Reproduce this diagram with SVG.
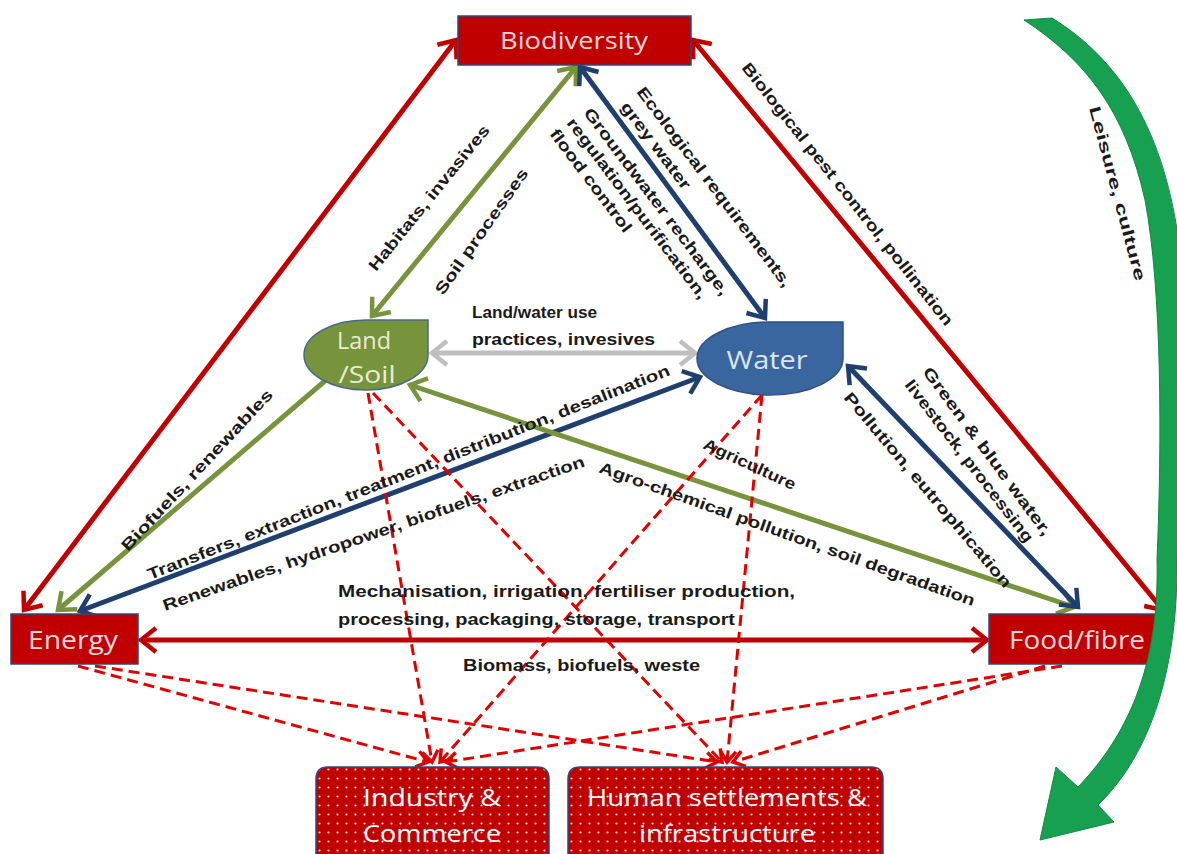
<svg xmlns="http://www.w3.org/2000/svg" width="1177" height="854" viewBox="0 0 1177 854">
<style>
.box{fill:#c00000;stroke:#2f4a7a;stroke-width:1.5}
.nt{font-family:"Open Sans","Noto Sans",sans-serif;font-size:23px;text-anchor:middle}
.lbl{font-family:"Liberation Sans",Arial,sans-serif;font-weight:bold;font-size:16px;fill:#1a1a1a}
.red{stroke:#c00000;stroke-width:5;fill:none}
.grn{stroke:#77933c;stroke-width:5;fill:none}
.blu{stroke:#1f3f6e;stroke-width:5;fill:none}
.gry{stroke:#bfbfbf;stroke-width:5;fill:none}
.dsh{stroke:#e00000;stroke-width:3;fill:none;stroke-dasharray:11 6}
</style>
<defs>
<marker id="aR" viewBox="-18 -14 24 28" refX="0" refY="0" markerWidth="24" markerHeight="28" markerUnits="userSpaceOnUse" orient="auto-start-reverse"><path d="M-15,-12 L0,0 L-15,12" fill="none" stroke="#c00000" stroke-width="4.5"/></marker>
<marker id="aG" viewBox="-18 -14 24 28" refX="0" refY="0" markerWidth="24" markerHeight="28" markerUnits="userSpaceOnUse" orient="auto-start-reverse"><path d="M-15,-12 L0,0 L-15,12" fill="none" stroke="#77933c" stroke-width="4.5"/></marker>
<marker id="aB" viewBox="-18 -14 24 28" refX="0" refY="0" markerWidth="24" markerHeight="28" markerUnits="userSpaceOnUse" orient="auto-start-reverse"><path d="M-15,-12 L0,0 L-15,12" fill="none" stroke="#1f3f6e" stroke-width="4.5"/></marker>
<marker id="aY" viewBox="-18 -14 24 28" refX="0" refY="0" markerWidth="24" markerHeight="28" markerUnits="userSpaceOnUse" orient="auto-start-reverse"><path d="M-15,-12 L0,0 L-15,12" fill="none" stroke="#bfbfbf" stroke-width="4.5"/></marker>
<marker id="aD" viewBox="-14 -10 18 20" refX="0" refY="0" markerWidth="18" markerHeight="20" markerUnits="userSpaceOnUse" orient="auto"><path d="M-11,-8 L0,0 L-11,8" fill="none" stroke="#e00000" stroke-width="3.5"/></marker>
<pattern id="dots" width="9" height="9" patternUnits="userSpaceOnUse"><rect width="9" height="9" fill="#c00000"/><circle cx="4.5" cy="4.5" r="1.1" fill="#ffffff" opacity="0.85"/></pattern>
</defs>
<rect width="1177" height="854" fill="#ffffff"/>

<g id="connectors">
<line class="red" x1="456" y1="40" x2="24" y2="610" marker-start="url(#aR)" marker-end="url(#aR)"/>
<line class="red" x1="693" y1="40" x2="1163" y2="610" marker-start="url(#aR)" marker-end="url(#aR)"/>
<line class="red" x1="141" y1="640" x2="987" y2="640" marker-start="url(#aR)" marker-end="url(#aR)"/>
<line class="grn" x1="372" y1="316" x2="576" y2="67" marker-start="url(#aG)" marker-end="url(#aG)"/>
<line class="grn" x1="326" y1="380" x2="58" y2="610" marker-end="url(#aG)"/>
<line class="blu" x1="580" y1="67" x2="765" y2="318" marker-start="url(#aB)" marker-end="url(#aB)"/>
<line class="blu" x1="80" y1="611" x2="700" y2="377" marker-start="url(#aB)" marker-end="url(#aB)"/>
<line class="gry" x1="432" y1="353" x2="695" y2="353" marker-start="url(#aY)" marker-end="url(#aY)"/>
<line class="grn" x1="410" y1="385" x2="1074" y2="607" marker-start="url(#aG)" marker-end="url(#aG)"/>
<line class="blu" x1="848" y1="366" x2="1078" y2="607" marker-start="url(#aB)" marker-end="url(#aB)"/>
<line class="dsh" x1="368" y1="393" x2="432" y2="762" marker-end="url(#aD)"/>
<line class="dsh" x1="373" y1="393" x2="722" y2="762" marker-end="url(#aD)"/>
<line class="dsh" x1="762" y1="395" x2="440" y2="762" marker-end="url(#aD)"/>
<line class="dsh" x1="762" y1="395" x2="727" y2="762" marker-end="url(#aD)"/>
<line class="dsh" x1="78" y1="666" x2="428" y2="762" marker-end="url(#aD)"/>
<line class="dsh" x1="95" y1="666" x2="717" y2="762" marker-end="url(#aD)"/>
<line class="dsh" x1="1062" y1="666" x2="446" y2="762" marker-end="url(#aD)"/>
<line class="dsh" x1="1045" y1="666" x2="733" y2="762" marker-end="url(#aD)"/>
</g>

<g id="labels">
<text class="lbl" transform="translate(128,552) rotate(-47)" textLength="214" lengthAdjust="spacingAndGlyphs">Biofuels, renewables</text>
<text class="lbl" transform="translate(376,272) rotate(-51)" textLength="182" lengthAdjust="spacingAndGlyphs">Habitats, invasives</text>
<text class="lbl" transform="translate(443,296) rotate(-55)" textLength="150" lengthAdjust="spacingAndGlyphs">Soil processes</text>
<text class="lbl" transform="translate(636,92) rotate(53)" textLength="246" lengthAdjust="spacingAndGlyphs">Ecological requirements,</text>
<text class="lbl" transform="translate(620,107) rotate(53)" textLength="105" lengthAdjust="spacingAndGlyphs">grey water</text>
<text class="lbl" transform="translate(583,113) rotate(53)" textLength="230" lengthAdjust="spacingAndGlyphs">Groundwater recharge,</text>
<text class="lbl" transform="translate(566,123) rotate(53)" textLength="222" lengthAdjust="spacingAndGlyphs">regulation/purification,</text>
<text class="lbl" transform="translate(549,134) rotate(53)" textLength="125" lengthAdjust="spacingAndGlyphs">flood control</text>
<text class="lbl" transform="translate(741,68) rotate(51.7)" textLength="330" lengthAdjust="spacingAndGlyphs">Biological  pest control, pollination</text>
<text class="lbl" transform="translate(1089,108) rotate(75)" textLength="180" lengthAdjust="spacingAndGlyphs">Leisure, culture</text>
<text class="lbl" transform="translate(922,372) rotate(53.6)" textLength="205" lengthAdjust="spacingAndGlyphs">Green &amp; blue water,</text>
<text class="lbl" transform="translate(904,385) rotate(52.5)" textLength="200" lengthAdjust="spacingAndGlyphs">livestock, processing</text>
<text class="lbl" transform="translate(843,398) rotate(49.8)" textLength="250" lengthAdjust="spacingAndGlyphs">Pollution, eutrophication</text>
<text class="lbl" transform="translate(702,448) rotate(25)" textLength="100" lengthAdjust="spacingAndGlyphs">Agriculture</text>
<text class="lbl" transform="translate(598,472) rotate(19.7)" textLength="398" lengthAdjust="spacingAndGlyphs">Agro-chemical  pollution, soil degradation</text>
<text class="lbl" transform="translate(150,580) rotate(-21.5)" textLength="560" lengthAdjust="spacingAndGlyphs">Transfers, extraction,  treatment, distribution, desalination</text>
<text class="lbl" transform="translate(165,611) rotate(-19)" textLength="445" lengthAdjust="spacingAndGlyphs">Renewables, hydropower, biofuels, extraction</text>
<text class="lbl" x="472" y="318" textLength="125" lengthAdjust="spacingAndGlyphs">Land/water use</text>
<text class="lbl" x="472" y="345" textLength="183" lengthAdjust="spacingAndGlyphs">practices, invesives</text>
<text class="lbl" x="338" y="597" textLength="457" lengthAdjust="spacingAndGlyphs">Mechanisation, irrigation,  fertiliser production,</text>
<text class="lbl" x="338" y="625" textLength="397" lengthAdjust="spacingAndGlyphs">processing, packaging,  storage, transport</text>
<text class="lbl" x="463" y="671" textLength="237" lengthAdjust="spacingAndGlyphs">Biomass, biofuels, weste</text>
</g>

<g id="biodiversity">
<rect class="box" x="458" y="16" width="233" height="49"/>
<text class="nt" x="574" y="49" fill="#f7d9d9" style="font-size:24px" textLength="148" lengthAdjust="spacingAndGlyphs">Biodiversity</text>
</g>
<g id="energy">
<rect class="box" x="11" y="614" width="127" height="50"/>
<text class="nt" x="73" y="649" fill="#f7d9d9" style="font-size:25px" textLength="90" lengthAdjust="spacingAndGlyphs">Energy</text>
</g>
<g id="food-fibre">
<rect class="box" x="989" y="614" width="174" height="50"/>
<text class="nt" x="1077" y="649" fill="#f7d9d9" style="font-size:25px" textLength="136" lengthAdjust="spacingAndGlyphs">Food/fibre</text>
</g>
<g id="land-soil">
<path d="M366,320 L428,320 L428,355 A62,35 0 0 1 366,390 A62,35 0 0 1 304,355 A62,35 0 0 1 366,320 Z" fill="#77933c" stroke="#4a6a8a" stroke-width="1.5"/>
<text class="nt" x="364" y="349" fill="#e6eed5" textLength="54" lengthAdjust="spacingAndGlyphs">Land</text>
<text class="nt" x="367" y="383" fill="#e6eed5" textLength="57" lengthAdjust="spacingAndGlyphs">/Soil</text>
</g>
<g id="water">
<path d="M770,322 L843,322 L843,358 A73,36.5 0 0 1 770,395 A73,36.5 0 0 1 697,358 A73,36.5 0 0 1 770,322 Z" fill="#3a66a0" stroke="#2f5080" stroke-width="1.5"/>
<text class="nt" x="767" y="369" fill="#dbe5f1" style="font-size:26px" textLength="81" lengthAdjust="spacingAndGlyphs">Water</text>
</g>
<g id="industry-commerce">
<path d="M316,870 L316,779 Q316,767 328,767 L537,767 Q549,767 549,779 L549,870 Z" fill="url(#dots)" stroke="#2f4a7a" stroke-width="1.5"/>
<text class="nt" x="432" y="806" fill="#ffffff" style="font-size:24px" textLength="138" lengthAdjust="spacingAndGlyphs">Industry &amp;</text>
<text class="nt" x="432" y="842" fill="#ffffff" style="font-size:24px" textLength="138" lengthAdjust="spacingAndGlyphs">Commerce</text>
</g>
<g id="human-settlements">
<path d="M568,870 L568,779 Q568,767 580,767 L871,767 Q883,767 883,779 L883,870 Z" fill="url(#dots)" stroke="#2f4a7a" stroke-width="1.5"/>
<text class="nt" x="727" y="806" fill="#ffffff" style="font-size:24px" textLength="280" lengthAdjust="spacingAndGlyphs">Human settlements &amp;</text>
<text class="nt" x="727" y="842" fill="#ffffff" style="font-size:24px" textLength="176" lengthAdjust="spacingAndGlyphs">infrastructure</text>
</g>
<g id="leisure-arrow">
<path d="M1024,20 L1052,18 C1120,60 1165,130 1180,250 C1190,340 1185,460 1177,560 C1178,680 1145,760 1098,805 L1114,822 L1040,840 L1056,767 L1078,787 C1118,745 1160,680 1157,560 C1162,440 1162,290 1145,200 C1125,110 1085,60 1024,20 Z" fill="#16a050" stroke="#0f8a42" stroke-width="1"/>
</g>
</svg>
